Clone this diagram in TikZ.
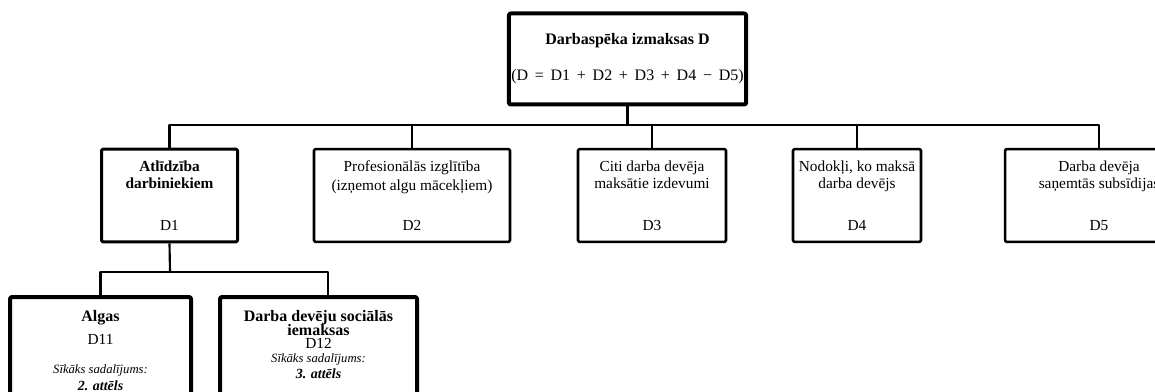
\documentclass[tikz,border=0pt]{standalone}
\usepackage{fontspec}
\setmainfont{Liberation Serif}

\begin{document}
\begin{tikzpicture}[x=0.75pt,y=-0.75pt,line join=round,
    font=\fontsize{11.5}{13}\selectfont,
    box/.style={draw,line width=1.9pt,rounded corners=1pt,align=center,
      inner sep=0pt,minimum height=69.5pt,execute at begin node=\rule{0pt}{13pt}},
    bigbox/.style={draw,line width=3pt,rounded corners=1.5pt,inner sep=0pt},
    link/.style={line width=1.6pt}]
  \useasboundingbox (0,0) rectangle (1155,392);
  \clip (0,0) rectangle (1155,392);
  \node[bigbox,align=center,minimum width=178pt,minimum height=68.25pt,
        font=\fontsize{12}{14}\selectfont] (top) at (627.5,59)
    {\textbf{Darbaspēka izmaksas D}\\[13pt]{\spaceskip=.42em (D = D1 + D2 + D3 + D4 − D5)}};
  \node[box,line width=2.25pt,minimum width=102pt] (d1) at (169.5,195.5)
    {\textbf{Atlīdzība}\\\textbf{darbiniekiem}\\[18pt]D1};
  \node[box,minimum width=147pt] (d2) at (412,195.5)
    {Profesionālās izglītība\\[1pt](izņemot algu mācekļiem)\\[17pt]D2};
  \node[box,minimum width=111pt] (d3) at (652,195.5)
    {Citi darba devēja\\maksātie izdevumi\\[18pt]D3};
  \node[box,minimum width=96pt] (d4) at (857,195.5)
    {Nodokļi, ko maksā\\darba devējs\\[18pt]D4};
  \node[box,minimum width=141pt] (d5) at (1099,195.5)
    {Darba devēja\\saņemtās subsīdijas\\[18pt]D5};
  \node[bigbox,minimum width=135.75pt,minimum height=97.5pt] (d11) at (100.5,362) {};
  \node[bigbox,minimum width=147.75pt,minimum height=97.5pt] (d12) at (318.5,362) {};
  \node[anchor=north,align=center] (d11txt) at ([yshift=-8pt]d11.north)
    {\textbf{\fontsize{12}{13}\selectfont Algas}\\[4.5pt]D11\\[8.5pt]
     {\fontsize{9.5}{13}\selectfont\itshape Sīkāks sadalījums:}\\[-0.5pt]
     {\fontsize{10.5}{13}\selectfont\bfseries\itshape 2. attēls}};
  \node[anchor=north,align=center] (d12txt) at ([yshift=-8pt]d12.north)
    {\textbf{\fontsize{12}{13}\selectfont Darba devēju sociālās}\\[-2.5pt]
     \textbf{\fontsize{12}{13}\selectfont iemaksas}\\[-3pt]D12\\[-2.5pt]
     {\fontsize{9.5}{13}\selectfont\itshape Sīkāks sadalījums:}\\[-1pt]
     {\fontsize{10.5}{13}\selectfont\bfseries\itshape 3. attēls}};
  \coordinate (bus) at (627.5,125);
  \coordinate (subbus) at (170,272);
  \draw[link] (top.south) -- (bus);
  \draw[link] (d1.north) |- (bus) -| (d5.north);
  \foreach \n in {d2,d3,d4}
    \draw[link] (\n.north) -- (\n.north |- bus);
  \draw[link] (d1.south) -- (subbus);
  \draw[link] (d11.north) |- (subbus) -| ([xshift=7.1pt]d12.north);
\end{tikzpicture}
\end{document}
